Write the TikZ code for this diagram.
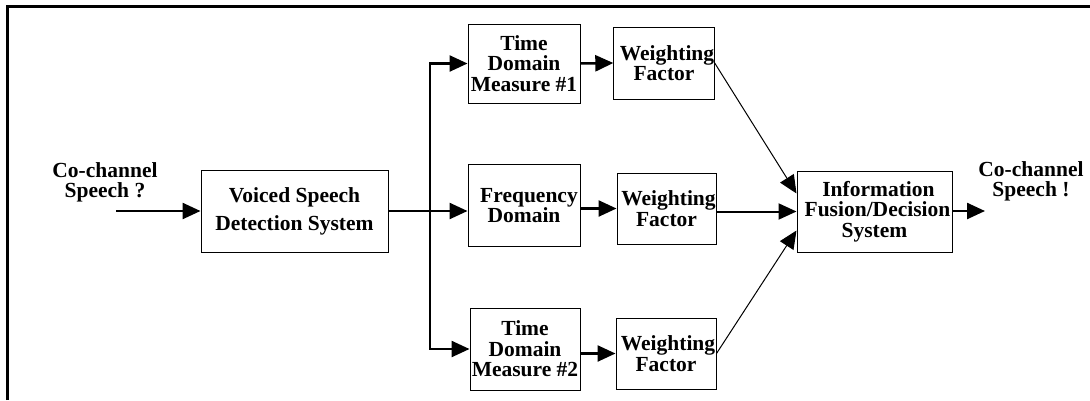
\documentclass[tikz,border=0pt]{standalone}
\usepackage{fontspec}
\setmainfont{Liberation Serif}
\usetikzlibrary{arrows.meta}

\begin{document}
\begin{tikzpicture}[x=1pt, y=-1pt]
	\tikzstyle{block} = [draw, line width=1pt, align=center, inner sep=0pt,
		font=\fontsize{21.5}{20.5}\selectfont\bfseries]
	\tikzstyle{label} = [align=center, inner sep=0pt,
		font=\fontsize{21.5}{20}\selectfont\bfseries]
	\tikzstyle{arr} = [line width=2.5pt, -{Triangle[length=18pt, width=16pt]}]
	\tikzstyle{thinarr} = [line width=1pt, -{Triangle[length=18pt, width=16pt]}]

	\useasboundingbox (0,0) rectangle (1090,400);

	% Frame
	\draw[line width=3pt] (7.5,400) -- (7.5,6.5) -- (1090,6.5);

	% Define nodes
	\node[label] (inlabel) at (105,182) {Co-channel\\Speech ?};
	\coordinate (in) at (116,211);
	\node[block, minimum width=187pt, minimum height=82pt,
		font=\fontsize{21.5}{28}\selectfont\bfseries] (VSDS) at (294.5,211)
		{Voiced Speech\\Detection System};
	\coordinate (br) at (430,211);

	\node[block, minimum width=112pt, minimum height=79pt] (TD1) at (524,63.5)
		{Time\\Domain\\Measure \#1};
	\node[block, minimum width=112pt, minimum height=82pt] (FD) at (524,205.5)
		{\hspace{10pt}Frequency\\Domain};
	\node[block, minimum width=110pt, minimum height=82pt] (TD2) at (525,349)
		{Time\\Domain\\Measure \#2};

	\node[block, minimum width=100pt, minimum height=72pt] (WF1) at (664,63)
		{\hspace{6pt}Weighting\\Factor};
	\node[block, minimum width=99pt, minimum height=71pt] (WF2) at (666.5,208.5)
		{\hspace{4pt}Weighting\\Factor};
	\node[block, minimum width=100pt, minimum height=71pt] (WF3) at (666,353.5)
		{\hspace{4pt}Weighting\\Factor};

	\node[block, minimum width=155pt, minimum height=81pt] (FUS) at (874.5,211.5)
		{\hspace{8pt}Information\\\hspace{6pt}Fusion/Decision\\System};
	\coordinate (out) at (985,211);
	\node[label] (outlabel) at (1031,181) {Co-channel\\Speech !};

	% Draw edges
	\draw[arr] (in) -- (in -| VSDS.west);
	\draw[line width=2.5pt] (VSDS.east |- br) -- (br);
	\draw[arr] (br) -- (br -| FD.west);
	\draw[arr] (br) |- (TD1.west);
	\draw[arr] (br) |- (TD2.west);

	\draw[arr] (TD1.east) -- (WF1.west);
	\draw[arr] (FD.east |- WF2) -- (WF2.west);
	\draw[arr] (TD2.east |- WF3) -- (WF3.west);

	\draw[thinarr] (WF1.east) -- ([yshift=18pt]FUS.west);
	\draw[arr, line width=2pt] (WF2.east |- FUS.west) -- (FUS.west);
	\draw[thinarr] (WF3.east) -- ([yshift=-19pt]FUS.west);

	\draw[arr] (FUS.east |- out) -- (out);
\end{tikzpicture}
\end{document}
